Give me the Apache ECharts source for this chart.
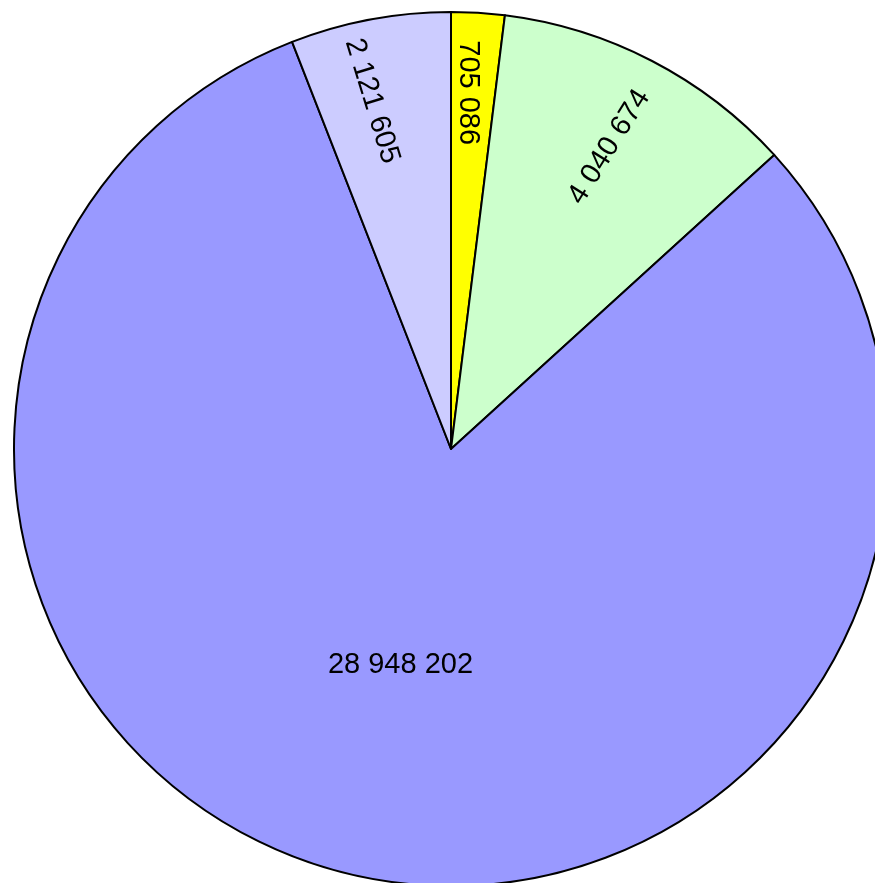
<!DOCTYPE html>
<html>
<head>
    <meta charset="utf-8" />
    <title>Pie</title>
    <style>
        body {
            margin: 0;
            padding: 0;
            background: #ffffff;
        }

        #chart {
            width: 875px;
            height: 883px;
        }
    </style>
    <script src="https://cdn.jsdelivr.net/npm/echarts@6/dist/echarts.min.js"></script>
</head>
<body>
    <div id="chart"></div>
    <script type="text/javascript">
        // slices, clockwise from 12 o'clock
        var sliceNames = ['Part 1', 'Part 2', 'Part 3', 'Part 4'];
        var sliceValues = [705086, 4040674, 28948202, 2121605];

        var sliceColors = ['#ffff00', '#ccffcc', '#9999ff', '#ccccff'];
        // label rotation (deg) for the narrow slices, big slice stays horizontal
        var labelRotate = [-90, 58, 0, -73];
        // small screen nudges of the outer labels
        var labelNudge = [[-5, 0], [-6, 15], [0, 0], [-13, 3]];
        var bigIndex = 2;

        function fmt(v) {
            return String(v).replace(/\B(?=(\d{3})+(?!\d))/g, ' ');
        }

        var labelFont = {
            fontFamily: 'Liberation Sans, Arial, sans-serif',
            fontSize: 29,
            color: '#000000'
        };

        var baseData = sliceNames.map(function (n, i) {
            return {
                name: n,
                value: sliceValues[i],
                itemStyle: { color: sliceColors[i] },
                label: { show: i === bigIndex }
            };
        });

        // transparent ring only used to place the outer labels
        var ringData = sliceNames.map(function (n, i) {
            return {
                name: n,
                value: sliceValues[i],
                label: { show: i !== bigIndex, rotate: labelRotate[i] }
            };
        });

        var chart = echarts.init(document.getElementById('chart'));
        chart.setOption({
            animation: false,
            backgroundColor: '#ffffff',
            series: [{
                type: 'pie',
                center: [451, 449],
                radius: [0, 437],
                startAngle: 90,
                clockwise: true,
                silent: true,
                avoidLabelOverlap: false,
                itemStyle: {
                    borderColor: '#000000',
                    borderWidth: 2
                },
                label: Object.assign({
                    position: 'inside',
                    formatter: function (p) { return fmt(p.value); }
                }, labelFont),
                labelLine: { show: false },
                emphasis: { disabled: true },
                data: baseData
            }, {
                type: 'pie',
                center: [451, 449],
                radius: [271, 437],
                startAngle: 90,
                clockwise: true,
                silent: true,
                avoidLabelOverlap: false,
                itemStyle: {
                    color: 'rgba(0,0,0,0)',
                    borderWidth: 0
                },
                label: Object.assign({
                    position: 'inside',
                    formatter: function (p) { return fmt(p.value); }
                }, labelFont),
                labelLayout: function (p) {
                    // dx/dy act in the rotated label frame, so turn the screen nudge back
                    var s = labelNudge[p.dataIndex];
                    var t = labelRotate[p.dataIndex] * Math.PI / 180;
                    var c = Math.cos(t), n = Math.sin(t);
                    return {
                        dx: s[0] * c - s[1] * n,
                        dy: s[0] * n + s[1] * c
                    };
                },
                labelLine: { show: false },
                emphasis: { disabled: true },
                data: ringData
            }]
        });
    </script>
</body>
</html>
